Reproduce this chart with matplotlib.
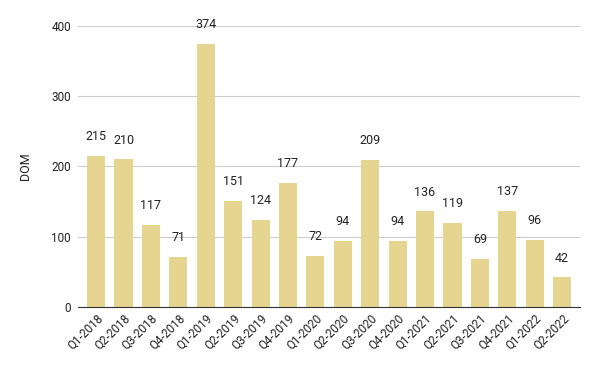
import matplotlib
matplotlib.use("Agg")
from matplotlib import pyplot as plt

quarters = ["Q1-2018", "Q2-2018", "Q3-2018", "Q4-2018",
            "Q1-2019", "Q2-2019", "Q3-2019", "Q4-2019",
            "Q1-2020", "Q2-2020", "Q3-2020", "Q4-2020",
            "Q1-2021", "Q2-2021", "Q3-2021", "Q4-2021",
            "Q1-2022", "Q2-2022"]
dom = [215, 210, 117, 71, 374, 151, 124, 177, 72, 94, 209, 94,
       136, 119, 69, 137, 96, 42]

plt.rcParams['font.family'] = ['Roboto', 'DejaVu Sans']

fig = plt.figure(figsize=(6, 3.71), dpi=100)
ax = fig.add_axes([0.13, 0.1725, 0.837, 0.7575])

x = list(range(len(quarters)))
ax.bar(x, dom, width=0.66, color="#e6d591", zorder=2)

for xi, v in zip(x, dom):
    ax.annotate(str(v), (xi, v), xytext=(0, 14), textcoords="offset points",
                ha="center", va="center", fontsize=9, color="#222222",
                clip_on=False)

ax.set_ylim(0, 400)
ax.set_xlim(-0.66, 17.66)
ax.set_yticks([0, 100, 200, 300, 400])
ax.grid(axis="y", color="#cccccc", linewidth=0.8, zorder=0)
ax.set_axisbelow(True)
for s in ["top", "right", "left"]:
    ax.spines[s].set_visible(False)
ax.spines["bottom"].set_color("#333333")
ax.spines["bottom"].set_zorder(3)
ax.tick_params(axis="both", length=0, labelsize=8.5, colors="#222222")
ax.tick_params(axis="y", pad=5)
ax.set_xticks(x)
ax.set_xticklabels(quarters, rotation=45, ha="right", rotation_mode="anchor")
ax.set_ylabel("DOM", fontsize=9, color="#222222", labelpad=14)

plt.savefig("out.png", dpi=100)
